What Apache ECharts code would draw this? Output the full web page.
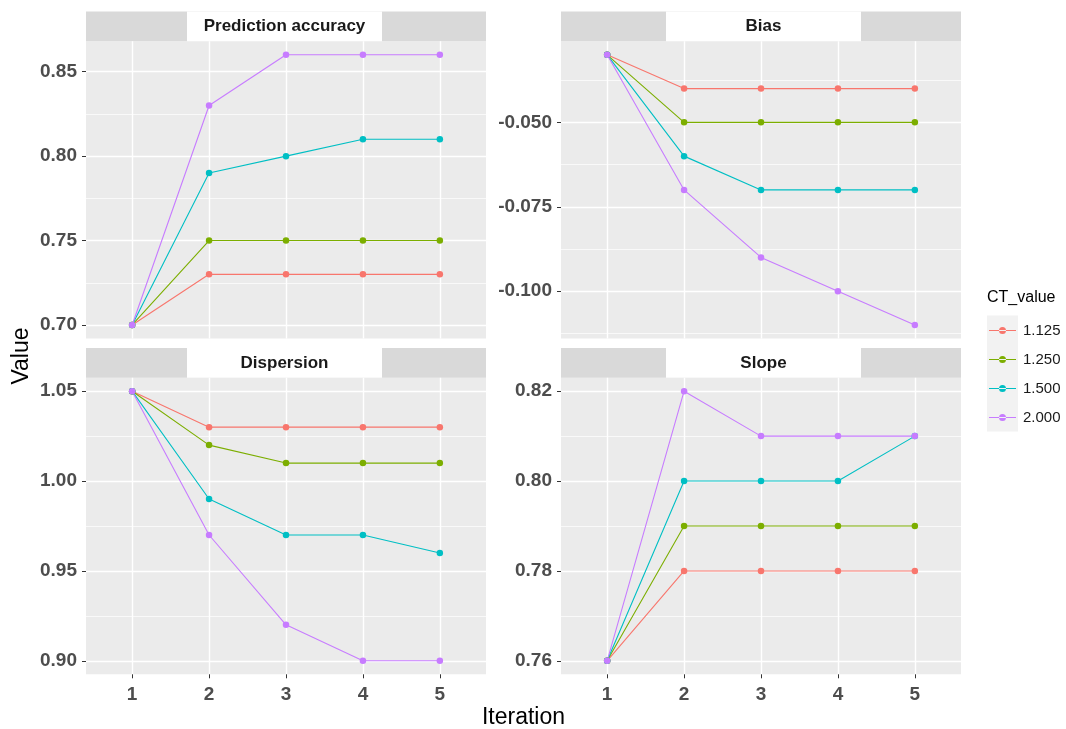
<!DOCTYPE html>
<html><head><meta charset="utf-8">
<script src="https://cdn.jsdelivr.net/npm/echarts@6/dist/echarts.min.js"></script>
<style>html,body{margin:0;padding:0;background:#fff}#c{width:1066px;height:729px}</style>
</head><body><div id="c"></div>
<script>
// ---------- data ----------
const iterations = [1, 2, 3, 4, 5];
const ctLevels = ['1.125', '1.250', '1.500', '2.000'];
const panelTitles = ['Prediction accuracy', 'Bias', 'Dispersion', 'Slope'];

// rows follow ctLevels order
const accuracyValues = [
  [0.70, 0.73, 0.73, 0.73, 0.73],
  [0.70, 0.75, 0.75, 0.75, 0.75],
  [0.70, 0.79, 0.80, 0.81, 0.81],
  [0.70, 0.83, 0.86, 0.86, 0.86]
];
const biasValues = [
  [-0.03, -0.04, -0.04, -0.04, -0.04],
  [-0.03, -0.05, -0.05, -0.05, -0.05],
  [-0.03, -0.06, -0.07, -0.07, -0.07],
  [-0.03, -0.07, -0.09, -0.10, -0.11]
];
const dispersionValues = [
  [1.05, 1.03, 1.03, 1.03, 1.03],
  [1.05, 1.02, 1.01, 1.01, 1.01],
  [1.05, 0.99, 0.97, 0.97, 0.96],
  [1.05, 0.97, 0.92, 0.90, 0.90]
];
const slopeValues = [
  [0.76, 0.78, 0.78, 0.78, 0.78],
  [0.76, 0.79, 0.79, 0.79, 0.79],
  [0.76, 0.80, 0.80, 0.80, 0.81],
  [0.76, 0.82, 0.81, 0.81, 0.81]
];

const accuracyTicks = [0.70, 0.75, 0.80, 0.85];
const biasTicks = [-0.100, -0.075, -0.050];
const dispersionTicks = [0.90, 0.95, 1.00, 1.05];
const slopeTicks = [0.76, 0.78, 0.80, 0.82];
const tickDecimals = [2, 3, 2, 2];

// ---------- styling / layout ----------
const ctColors = ['#F8766D', '#7CAE00', '#00BFC4', '#C77CFF'];
const FONT = '"Liberation Sans", Arial, sans-serif';
const panels = [
  { left: 86, top: 41.3, w: 400, h: 297.2, boxX: 187, bottomRow: false },
  { left: 561, top: 41.3, w: 400, h: 297.2, boxX: 666, bottomRow: false },
  { left: 86, top: 377.7, w: 400, h: 296.6, boxX: 187, bottomRow: true },
  { left: 561, top: 377.7, w: 400, h: 296.6, boxX: 666, bottomRow: true }
];
const stripH = 29.7;
const boxW = 195;
// legend key icon: thin line with a small dot in the middle
const legendIcon = 'path://M0,3L27,3L27,4L0,4Z M10,3.5A3.5,3.5 0 1,0 17,3.5A3.5,3.5 0 1,0 10,3.5Z';

const panelValues = [accuracyValues, biasValues, dispersionValues, slopeValues];
const panelTicks = [accuracyTicks, biasTicks, dispersionTicks, slopeTicks];

function rangeOf(vals) {
  const flat = vals.flat();
  const lo = Math.min(...flat), hi = Math.max(...flat);
  const pad = (hi - lo) * 0.05;
  return [lo - pad, hi + pad];
}
function minorsOf(ticks, r) {
  const step = ticks[1] - ticks[0];
  const out = [];
  for (let k = -1; k < ticks.length; k++) {
    const v = +(ticks[0] + (k + 0.5) * step).toFixed(6);
    if (v > r[0] && v < r[1]) out.push(v);
  }
  return out;
}

const grid = [], xAxis = [], yAxis = [], series = [], graphic = [];

panels.forEach((p, i) => {
  grid.push({ left: p.left, top: p.top, width: p.w, height: p.h, show: true,
    backgroundColor: '#EBEBEB', borderWidth: 0, containLabel: false });
  xAxis.push({
    type: 'value', gridIndex: i, min: 0.4, max: 5.6,
    axisLine: { show: false },
    axisTick: { show: p.bottomRow, customValues: iterations, length: 4,
      lineStyle: { color: '#333333', width: 1 } },
    axisLabel: { show: p.bottomRow, customValues: iterations, margin: 11,
      fontSize: 19, fontWeight: 'bold', color: '#4D4D4D', fontFamily: FONT },
    splitLine: { show: true, lineStyle: { color: '#FFFFFF', width: 1.4 } }
  });
  const r = rangeOf(panelValues[i]);
  const dec = tickDecimals[i];
  yAxis.push({
    type: 'value', gridIndex: i, min: r[0], max: r[1],
    axisLine: { show: false },
    axisTick: { show: true, customValues: panelTicks[i], length: 4,
      lineStyle: { color: '#333333', width: 1 } },
    axisLabel: { show: true, customValues: panelTicks[i], margin: 9,
      fontSize: 19, fontWeight: 'bold', color: '#4D4D4D', fontFamily: FONT,
      formatter: v => (+v).toFixed(dec) },
    splitLine: { show: true, lineStyle: { color: '#FFFFFF', width: 1.4 } },
    z: 2
  });
  yAxis.push({
    type: 'value', gridIndex: i, min: r[0], max: r[1], position: 'left',
    axisLine: { show: false },
    axisTick: { show: false, customValues: minorsOf(panelTicks[i], r) },
    axisLabel: { show: false, customValues: minorsOf(panelTicks[i], r) },
    splitLine: { show: true, lineStyle: { color: '#FFFFFF', width: 0.7 } },
    z: 1
  });
  panelValues[i].forEach((row, j) => {
    series.push({
      type: 'line', name: ctLevels[j], xAxisIndex: i, yAxisIndex: i * 2,
      data: iterations.map((it, k) => [it, row[k]]),
      color: ctColors[j], symbol: 'circle', symbolSize: 6.5, showSymbol: true,
      lineStyle: { width: 1.1, color: ctColors[j] },
      itemStyle: { color: ctColors[j] },
      emphasis: { disabled: true }, silent: true, z: 3
    });
  });
  // strip
  const sTop = p.top - stripH;
  graphic.push({ type: 'rect', shape: { x: p.left, y: sTop, width: p.w, height: stripH },
    style: { fill: '#D9D9D9' }, silent: true });
  graphic.push({ type: 'rect', shape: { x: p.boxX, y: sTop, width: boxW, height: stripH },
    style: { fill: '#FFFFFF' }, silent: true });
  graphic.push({ type: 'text', x: p.boxX + boxW / 2, y: sTop + stripH / 2,
    style: { text: panelTitles[i], fontSize: 17, fontWeight: 'bold', fill: '#1A1A1A',
      fontFamily: FONT, align: 'center', verticalAlign: 'middle' }, silent: true });
});

// axis titles
graphic.push({ type: 'text', x: 523.5, y: 718,
  style: { text: 'Iteration', fontSize: 23, fill: '#000000', fontFamily: FONT,
    align: 'center', verticalAlign: 'middle' }, silent: true });
graphic.push({ type: 'text', x: 22, y: 356, rotation: Math.PI / 2,
  style: { text: 'Value', fontSize: 23, fill: '#000000', fontFamily: FONT,
    align: 'center', verticalAlign: 'middle' }, silent: true });
// legend title + key background
graphic.push({ type: 'text', x: 987, y: 298,
  style: { text: 'CT_value', fontSize: 16, fill: '#000000', fontFamily: FONT,
    align: 'left', verticalAlign: 'middle' }, silent: true });
graphic.push({ type: 'rect', shape: { x: 987, y: 315.5, width: 31, height: 116 },
  style: { fill: '#F2F2F2' }, silent: true, z: -1 });

const option = {
  animation: false,
  backgroundColor: '#FFFFFF',
  grid, xAxis, yAxis, series, graphic,
  legend: {
    data: ctLevels.map((n, j) => ({ name: n, icon: legendIcon, itemStyle: { color: ctColors[j] } })),
    orient: 'vertical', left: 989, top: 323, padding: 0,
    itemWidth: 27, itemHeight: 7, itemGap: 14, selectedMode: false,
    textStyle: { fontSize: 15, color: '#1A1A1A', fontFamily: FONT, padding: [0, 0, 0, 2] }
  }
};
const chart = echarts.init(document.getElementById('c'), null, { renderer: 'canvas' });
chart.setOption(option);
</script>
</body></html>
